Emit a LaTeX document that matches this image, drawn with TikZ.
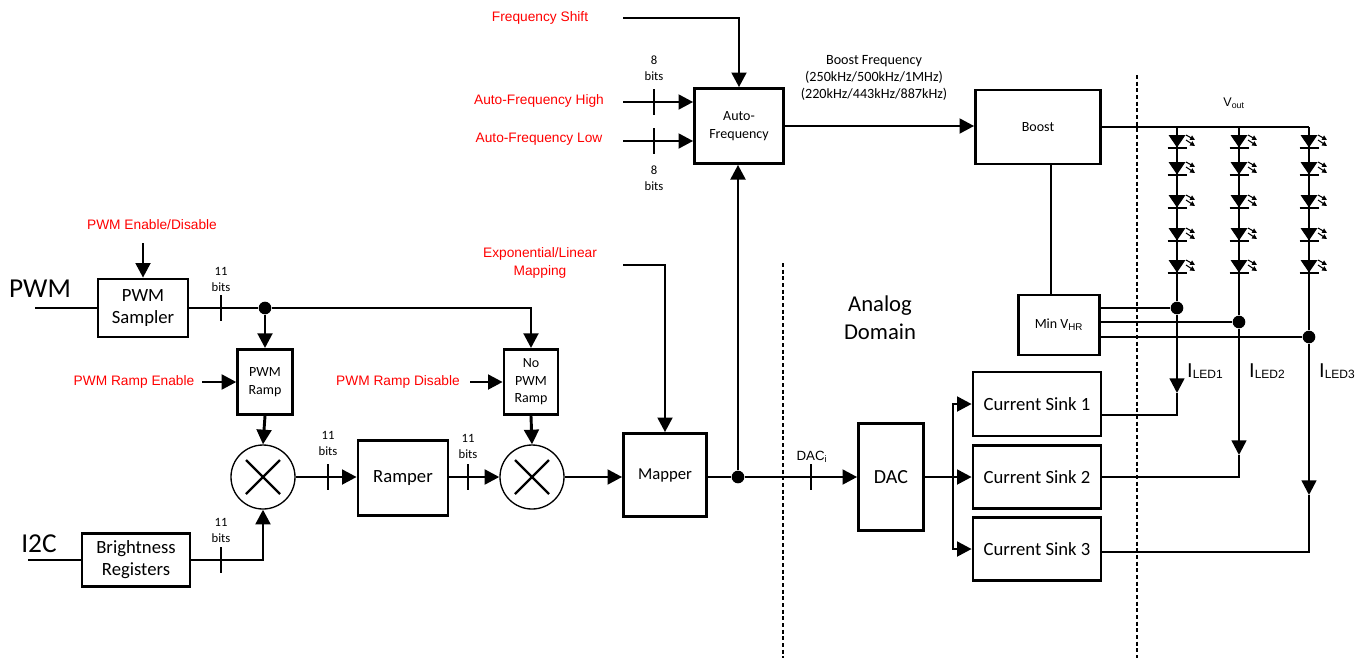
\documentclass[tikz,border=0pt]{standalone}
\usepackage{fontspec}
\setmainfont{Carlito}
\newfontfamily\arialfont{Liberation Sans}
\usetikzlibrary{arrows.meta}

\tikzset{
  blk/.style={draw, line width=2pt, align=center, inner sep=0pt,
    font=\fontsize{14}{16.5}\selectfont},
  sblk/.style={blk, font=\fontsize{10.5}{13.2}\selectfont},
  sig/.style={line width=2.2pt, ->},
  wire/.style={line width=2.2pt},
  inwire/.style={line width=0.8pt},
  ledw/.style={line width=1.8pt},
  hrwire/.style={line width=1.5pt},
  redlbl/.style={text=red, align=center, inner sep=0pt,
    font=\arialfont\fontsize{10.3}{13}\selectfont},
  bitslbl/.style={align=center, inner sep=0pt, font=\fontsize{9.5}{12}\selectfont},
  biglbl/.style={inner sep=0pt, font=\fontsize{20.5}{24}\selectfont},
  mult/.style={circle, draw, line width=1pt, minimum size=48pt, inner sep=0pt},
  crossw/.style={line width=1.75pt},
  jdot/.style={circle, fill, inner sep=0pt, minimum size=9.5pt},
  domainline/.style={line width=1.8pt, dash pattern=on 3pt off 2pt},
  emit/.style={line width=0.8pt, -{Triangle[length=3.6pt,width=3.6pt]}},
}

\begin{document}
\begin{tikzpicture}[x=0.75pt, y=-0.75pt, >={Triangle[length=11pt,width=11pt]}]
  \useasboundingbox (0,0) rectangle (1365,658);

  % Inputs
  \node[biglbl] (pwm) at (40,289) {PWM};
  \node[biglbl] (i2c) at (39,544) {I2C};
  \coordinate (pwmin) at (35,308);
  \coordinate (i2cin) at (28,560);

  % PWM sampler
  \node[blk, minimum width=67.5pt, minimum height=43.5pt] (samp) at (143,308) {PWM\\Sampler};
  \node[redlbl] (pwmen) at (152,225) {PWM Enable/Disable};
  \coordinate (pwmenin) at (143,243);
  \draw[inwire] (pwmin) -- (samp.west);
  \draw[sig] (pwmenin) -- (samp.north);

  % Brightness registers
  \node[blk, minimum width=81pt, minimum height=40pt] (bright) at (136,560) {Brightness\\Registers};
  \draw[inwire] (i2cin) -- (bright.west);

  % PWM ramp
  \node[sblk, minimum width=41pt, minimum height=49pt] (pramp) at (265,382) {PWM\\Ramp};
  \node[redlbl] (rampen) at (134,382) {PWM Ramp Enable};
  \coordinate (rampenin) at (202,382);
  \draw[sig] (rampenin) -- (pramp.west);

  % No PWM ramp
  \node[sblk, minimum width=40.5pt, minimum height=49pt] (npramp) at (531,382) {No\\PWM\\Ramp};
  \node[redlbl] (rampdis) at (398,382) {PWM Ramp Disable};
  \coordinate (rampdisin) at (470,382);
  \draw[sig] (rampdisin) -- (npramp.west);

  % Sampler output
  \node[jdot] (sdot) at (265,308) {};
  \draw[wire] (samp.east) -- (sdot);
  \draw[sig] (sdot) -| (npramp.north);
  \draw[sig] (sdot) -- (pramp.north);
  \node[bitslbl] (bits1) at (221,279) {11\\bits};

  % Multipliers
  \node[mult] (m1) at (263,477) {};
  \draw[crossw] (m1.center) +(-17,-17) -- +(17,17) (m1.center) +(-17,17) -- +(17,-17);
  \node[mult] (m2) at (532,477) {};
  \draw[crossw] (m2.center) +(-17,-17) -- +(17,17) (m2.center) +(-17,17) -- +(17,-17);
  \draw[sig] (pramp.south) -- (m1.north);
  \draw[sig] (npramp.south) -- (m2.north);
  \draw[sig] (bright.east) -| (m1.south);
  \node[bitslbl] (bits2) at (221,530) {11\\bits};

  % Ramper
  \node[blk, minimum width=67.5pt, minimum height=56.25pt] (ramper) at (403,478) {Ramper};
  \draw[sig] (m1.east) -- (m1.east -| ramper.west);
  \draw[sig] (ramper.east |- m2.west) -- (m2.west);
  \node[bitslbl] (bits3) at (328,443) {11\\bits};
  \node[bitslbl] (bits4) at (468,446) {11\\bits};

  % Mapper
  \node[blk, minimum width=62.25pt, minimum height=62.25pt,
    font=\fontsize{12.5}{15}\selectfont] (mapper) at (665,475) {Mapper};
  \node[redlbl] (expmap) at (540,263) {Exponential/Linear\\Mapping};
  \coordinate (expin) at (623,265);
  \draw[sig] (m2.east) -- (m2.east -| mapper.west);
  \draw[sig] (expin) -| (mapper.north);

  % Auto-frequency
  \node[sblk, minimum width=66.75pt, minimum height=56.25pt] (autof) at (739,126) {Auto-\\Frequency};
  \node[redlbl] (fshift) at (540,18) {Frequency Shift};
  \node[redlbl] (afhigh) at (539,101) {Auto-Frequency High};
  \node[redlbl] (aflow) at (539,139) {Auto-Frequency Low};
  \coordinate (fsin) at (623,18);
  \coordinate (afhin) at (623,102);
  \coordinate (aflin) at (623,141);
  \draw[sig] (fsin) -| (autof.north);
  \draw[sig] (afhin) -- (afhin -| autof.west);
  \draw[sig] (aflin) -- (aflin -| autof.west);
  \node[bitslbl] (bits5) at (654,68) {8\\bits};
  \node[bitslbl] (bits6) at (654,178) {8\\bits};

  % Boost
  \node[sblk, minimum width=93.75pt, minimum height=55.5pt] (boost) at (1038,127) {Boost};
  \node[bitslbl, font=\fontsize{10.6}{12.75}\selectfont] (bfreq) at (874,78)
    {Boost Frequency\\(250kHz/500kHz/1MHz)\\(220kHz/443kHz/887kHz)};
  \draw[sig] (autof.east) -- (autof.east -| boost.west);

  % Min V_HR
  \node[sblk, minimum width=60.75pt, minimum height=45pt] (minv) at (1059,325)
    {Min V\textsubscript{\arialfont HR}};
  \draw[ledw] ([xshift=-6pt]minv.north) -- ([xshift=-6pt]minv.north |- boost.south);

  % Mapper output and DAC
  \node[jdot] (mdot) at (738,477) {};
  \node[blk, minimum width=48.75pt, minimum height=80.25pt,
    font=\fontsize{15}{18}\selectfont] (dac) at (891,477) {DAC};
  \draw[wire] (mapper.east |- mdot) -- (mdot);
  \draw[sig] (mdot) -- (dac.west);
  \draw[sig] (mdot) -- (mdot |- autof.south);
  \node[inner sep=0pt, font=\arialfont\fontsize{10}{12}\selectfont] (daci) at (812,457) {DAC\textsubscript{i}};

  % Bus ticks
  \foreach \tx/\ty in {221/308, 221/560, 328/477, 468/477, 654/102, 654/141, 811/477}
    \draw[wire] (\tx,\ty-13) -- (\tx,\ty+13);

  % Domain borders
  \draw[domainline] (783,263) -- (783,658);
  \draw[domainline] (1137,75) -- (1137,658);
  \node[align=center, inner sep=0pt, font=\fontsize{17}{21}\selectfont] (analog) at (880,318) {Analog\\Domain};

  % Current sinks
  \node[blk, minimum width=96pt, minimum height=48pt] (cs1) at (1037,404) {Current Sink 1};
  \node[blk, minimum width=96pt, minimum height=47.25pt] (cs2) at (1037,477) {Current Sink 2};
  \node[blk, minimum width=96pt, minimum height=47.25pt] (cs3) at (1037,549) {Current Sink 3};
  \coordinate (split) at (953,477);
  \draw[wire] (dac.east) -- (split);
  \draw[sig] (split) |- (cs1.west);
  \draw[sig] (split) -- (cs2.west);
  \draw[sig] (split) |- (cs3.west);

  % LED strings
  \coordinate (t1) at (1177,127);
  \coordinate (t2) at (1239,127);
  \coordinate (t3) at (1309,127);
  \node[jdot] (d1) at (1177,308) {};
  \node[jdot] (d2) at (1239,322) {};
  \node[jdot] (d3) at (1309,337) {};
  \coordinate (a1) at (1177,393);
  \coordinate (a2) at (1239,455);
  \coordinate (a3) at (1309,495);
  \coordinate (k1) at (1177,415);
  \coordinate (k2) at (1239,477);
  \coordinate (k3) at (1309,552);
  \draw[ledw] (boost.east) -- (t3);
  \node[inner sep=0pt, font=\arialfont\fontsize{9.4}{11}\selectfont] (vout) at (1234,103) {V\textsubscript{out}};
  \foreach \i in {1,2,3}{
    \draw[ledw] (t\i) -- (d\i);
    \draw[ledw,->] (d\i) -- (a\i);
    \draw[ledw] (a\i) -- (k\i) -- (cs\i.east |- k\i);
    \draw[hrwire] (minv.east |- d\i) -- (d\i);
  }
  \foreach \cx in {1177,1239,1309}{
    \foreach \cy in {141,168,201,234,266}{
      \fill (\cx-8.5,\cy-6) -- (\cx+8.5,\cy-6) -- (\cx,\cy+6.5) -- cycle;
      \draw[line width=1.6pt] (\cx-9.5,\cy+7) -- (\cx+9.5,\cy+7);
      \draw[emit] (\cx+9,\cy-6) -- (\cx+18,\cy-1);
      \draw[emit] (\cx+9,\cy-1) -- (\cx+18,\cy+5);
    }
  }
  \node[inner sep=0pt, font=\arialfont\fontsize{15}{17}\selectfont] (iled1) at (1205,371)
    {I\raisebox{-1pt}{\fontsize{9}{10}\selectfont LED1}};
  \node[inner sep=0pt, font=\arialfont\fontsize{15}{17}\selectfont] (iled2) at (1267,371)
    {I\raisebox{-1pt}{\fontsize{9}{10}\selectfont LED2}};
  \node[inner sep=0pt, font=\arialfont\fontsize{15}{17}\selectfont] (iled3) at (1337,371)
    {I\raisebox{-1pt}{\fontsize{9}{10}\selectfont LED3}};

\end{tikzpicture}
\end{document}
